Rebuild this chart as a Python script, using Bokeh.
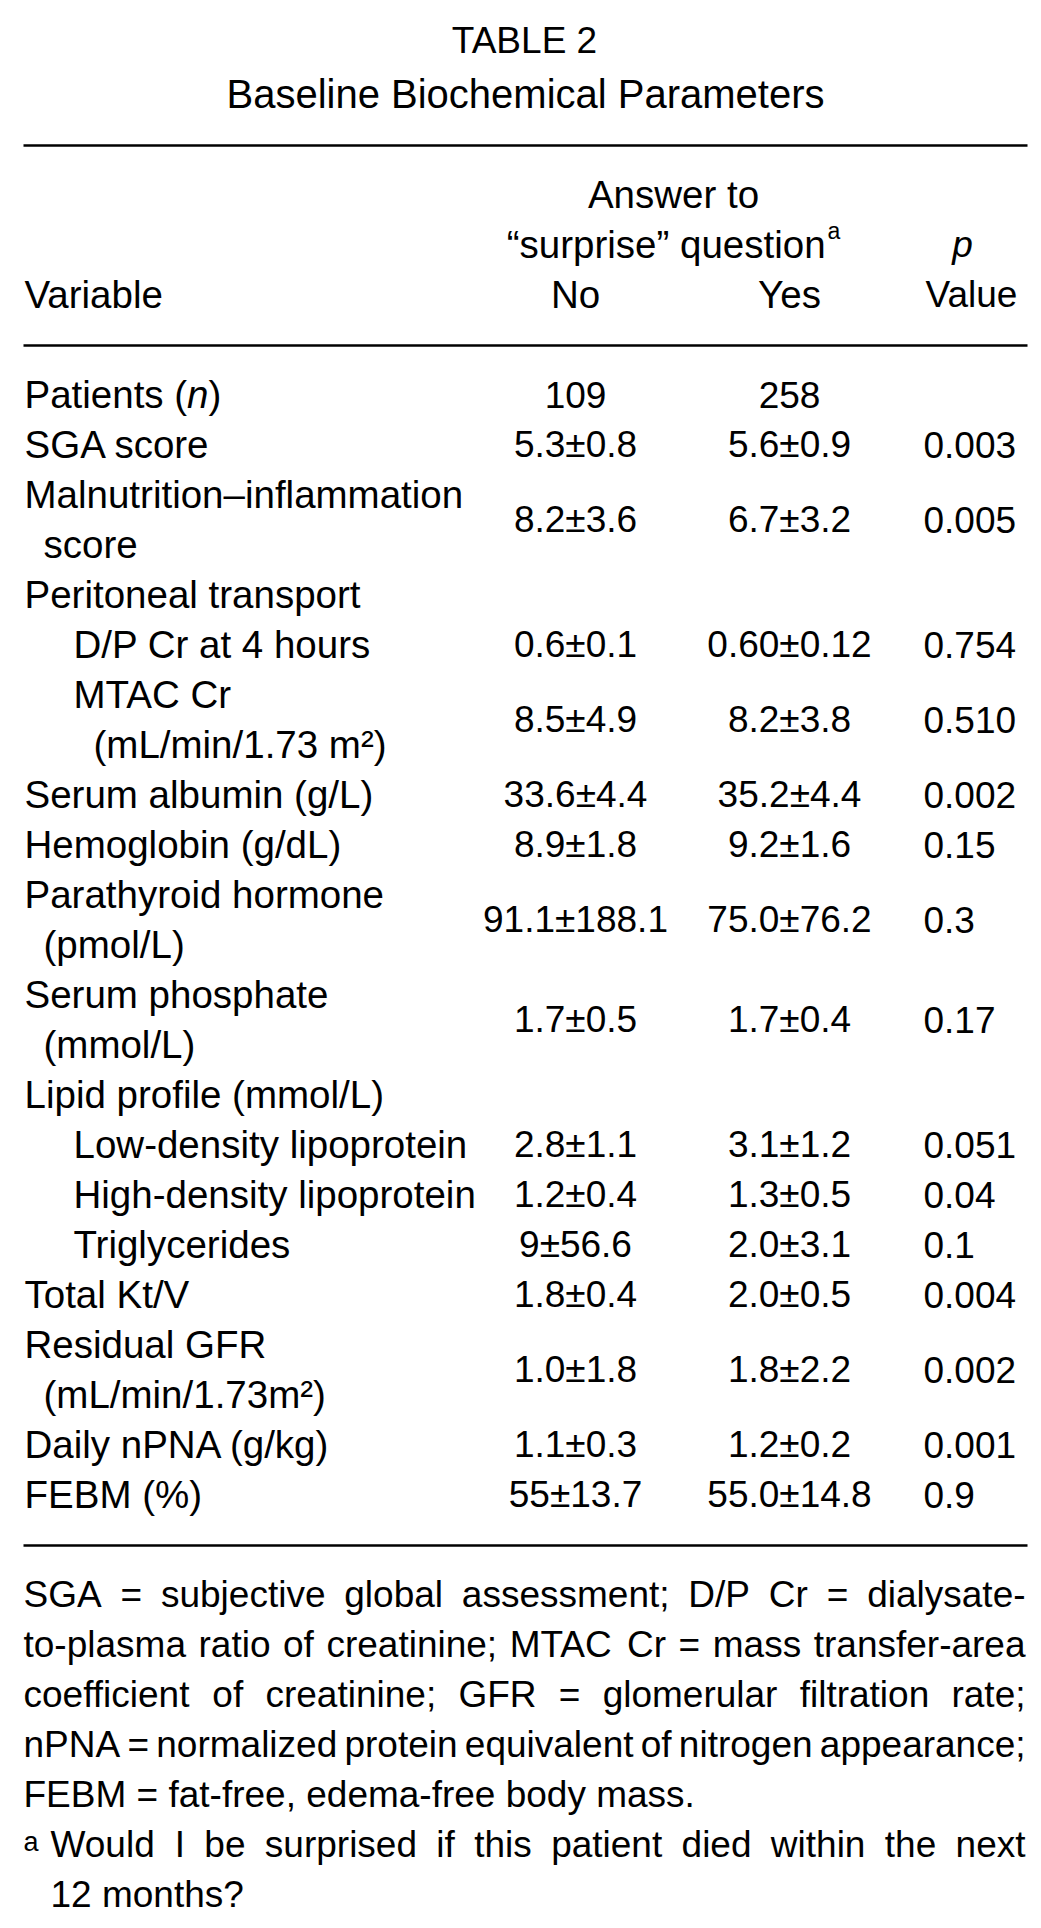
from bokeh.plotting import figure
from bokeh.models import Range1d, ColumnDataSource
from bokeh.core.properties import value
from bokeh.embed import file_html
from bokeh.resources import INLINE

# ---------------- data ----------------
title = "TABLE 2"
subtitle = "Baseline Biochemical Parameters"
group_header = ["Answer to", "“surprise” question"]
group_header_note = "a"
col_variable = "Variable"
col_groups = ["No", "Yes"]
col_p = ["_p_", "Value"]

variables = [
    "Patients (_n_)",
    "SGA score",
    "Malnutrition–inflammation|score",
    "Peritoneal transport",
    "D/P Cr at 4 hours",
    "MTAC Cr|(mL/min/1.73 m²)",
    "Serum albumin (g/L)",
    "Hemoglobin (g/dL)",
    "Parathyroid hormone|(pmol/L)",
    "Serum phosphate|(mmol/L)",
    "Lipid profile (mmol/L)",
    "Low-density lipoprotein",
    "High-density lipoprotein",
    "Triglycerides",
    "Total Kt/V",
    "Residual GFR|(mL/min/1.73m²)",
    "Daily nPNA (g/kg)",
    "FEBM (%)",
]
no_group = ["109", "5.3±0.8", "8.2±3.6", "", "0.6±0.1", "8.5±4.9", "33.6±4.4",
            "8.9±1.8", "91.1±188.1", "1.7±0.5", "", "2.8±1.1", "1.2±0.4",
            "9±56.6", "1.8±0.4", "1.0±1.8", "1.1±0.3", "55±13.7"]
yes_group = ["258", "5.6±0.9", "6.7±3.2", "", "0.60±0.12", "8.2±3.8", "35.2±4.4",
             "9.2±1.6", "75.0±76.2", "1.7±0.4", "", "3.1±1.2", "1.3±0.5",
             "2.0±3.1", "2.0±0.5", "1.8±2.2", "1.2±0.2", "55.0±14.8"]
p_values = ["", "0.003", "0.005", "", "0.754", "0.510", "0.002", "0.15", "0.3",
            "0.17", "", "0.051", "0.04", "0.1", "0.004", "0.002", "0.001", "0.9"]
indent_level = [0, 0, 0, 0, 1, 1, 0, 0, 0, 0, 0, 1, 1, 1, 0, 0, 0, 0]

footnotes = [
    "SGA = subjective global assessment; D/P Cr = dialysate-",
    "to-plasma ratio of creatinine; MTAC Cr = mass transfer-area",
    "coefficient of creatinine; GFR = glomerular filtration rate;",
    "nPNA = normalized protein equivalent of nitrogen appearance;",
    "FEBM = fat-free, edema-free body mass.",
]
footnote_a = ["Would I be surprised if this patient died within the next", "12 months?"]

# ---------------- layout ----------------
FONT = "Liberation Sans"
FS = 37       # numbers / footnotes
FL = 38.5     # row labels / headers
SUP = 23
SUP_FN = 27
BASE_K = 0.3465   # renderer places the text centre line at y: shift to real baseline
W, H = 1041, 1928
X_LEFT, X_RIGHT = 24, 1025
X_IND = [24, 73]
X_CONT = [43, 93]
X_NO, X_YES, X_P = 575, 789, 923
X_GROUP = 673
Y_FIRST, ROW_H = 407, 50

# Arial / Liberation Sans advance widths (per 1000 em)
AW = dict(zip(" !\"#$%&'()*+,-./0123456789:;<=>?@",
              [278, 278, 355, 556, 556, 889, 667, 191, 333, 333, 389, 584, 278, 333, 278, 278]
              + [556] * 10 + [278, 278, 584, 584, 584, 556, 1015]))
AW.update(zip("ABCDEFGHIJKLMNOPQRSTUVWXYZ",
              [667, 667, 722, 722, 667, 611, 778, 722, 278, 500, 667, 556, 833, 722, 778,
               667, 778, 722, 667, 611, 722, 667, 944, 667, 667, 611]))
AW.update(zip("abcdefghijklmnopqrstuvwxyz",
              [556, 556, 500, 556, 556, 278, 556, 556, 222, 222, 500, 222, 833, 556, 556,
               556, 556, 333, 500, 278, 556, 500, 722, 500, 500, 500]))
AW.update({"±": 584, "–": 556, "“": 333, "”": 333, "²": 333})


def tw(s, size):
    return sum(AW.get(c, 556) for c in s) * size / 1000.0


T = dict(x=[], y=[], text=[], align=[], size=[], style=[])


def put(x, y, s, align="left", size=FS, style="normal"):
    T["x"].append(x)
    T["y"].append(y - BASE_K * size)
    T["text"].append(s)
    T["align"].append(align)
    T["size"].append("%gpx" % size)
    T["style"].append(style)


def rich(x, y, s, align="left", size=FL):
    segs = s.split("_")
    if len(segs) == 1:
        put(x, y, s, align, size)
        return
    total = sum(tw(t, size) for t in segs)
    if align == "center":
        x -= total / 2
    elif align == "right":
        x -= total
    for k, t in enumerate(segs):
        if t:
            put(x, y, t, "left", size, "italic" if k % 2 else "normal")
        x += tw(t, size)


def justify(x0, x1, y, line, size=FS):
    words = line.split(" ")
    widths = [tw(w_, size) for w_ in words]
    gap = (x1 - x0 - sum(widths)) / max(len(words) - 1, 1)
    x = x0
    for w_, ww in zip(words, widths):
        put(x, y, w_, "left", size)
        x += ww + gap


# titles
put(524, 53, title, "center", 37)
put(525, 107, subtitle, "center", 40)

# column headers
put(X_GROUP, 207, group_header[0], "center", FL)
main_w = tw(group_header[1], FL)
sup_w = tw(group_header_note, SUP)
x_start = X_GROUP - (main_w + 2 + sup_w) / 2
put(x_start, 257, group_header[1], "left", FL)
put(x_start + main_w + 2, 238, group_header_note, "left", SUP)
rich(962, 257, col_p[0], "center", FS)
put(971, 307, col_p[1], "center", FS)
put(X_LEFT, 307, col_variable, "left", FL)
put(X_NO, 307, col_groups[0], "center", FL)
put(X_YES, 307, col_groups[1], "center", FL)

# body rows
line_idx = 0
for i, label in enumerate(variables):
    parts = label.split("|")
    y0 = Y_FIRST + ROW_H * line_idx
    lvl = indent_level[i]
    for k, part in enumerate(parts):
        rich(X_IND[lvl] if k == 0 else X_CONT[lvl], y0 + ROW_H * k, part)
    yv = y0 + ROW_H * (len(parts) - 1) / 2
    if no_group[i]:
        put(X_NO, yv, no_group[i], "center")
    if yes_group[i]:
        put(X_YES, yv, yes_group[i], "center")
    if p_values[i]:
        put(X_P, yv, p_values[i], "left")
    line_idx += len(parts)

# footnotes
FN_Y, FN_H = 1607, 50
for k, line in enumerate(footnotes):
    y = FN_Y + FN_H * k
    if k < len(footnotes) - 1:
        justify(23, X_RIGHT, y, line)
    else:
        put(23, y, line, "left")
ya = FN_Y + FN_H * len(footnotes)
put(23, ya - 6, group_header_note, "left", SUP_FN)
justify(50, X_RIGHT, ya, footnote_a[0])
put(50, ya + FN_H, footnote_a[1], "left")

# ---------------- figure ----------------
p = figure(width=W, height=H, x_range=Range1d(0, W), y_range=Range1d(H, 0),
           output_backend="svg", toolbar_location=None, min_border=0,
           x_axis_location=None, y_axis_location=None)
p.grid.visible = False
p.outline_line_color = None
p.background_fill_color = "white"
p.border_fill_color = "white"

rule_y = [145, 345, 1545]
p.segment(x0=[23] * 3, y0=rule_y, x1=[1027] * 3, y1=rule_y,
          line_color="black", line_width=2.5)

src = ColumnDataSource(T)
p.text(x="x", y="y", text="text", source=src, text_align="align",
       text_baseline="alphabetic", text_font=value(FONT), text_font_size="size",
       text_font_style="style", text_color="black")

open("out.html", "w").write(file_html(p, INLINE))
